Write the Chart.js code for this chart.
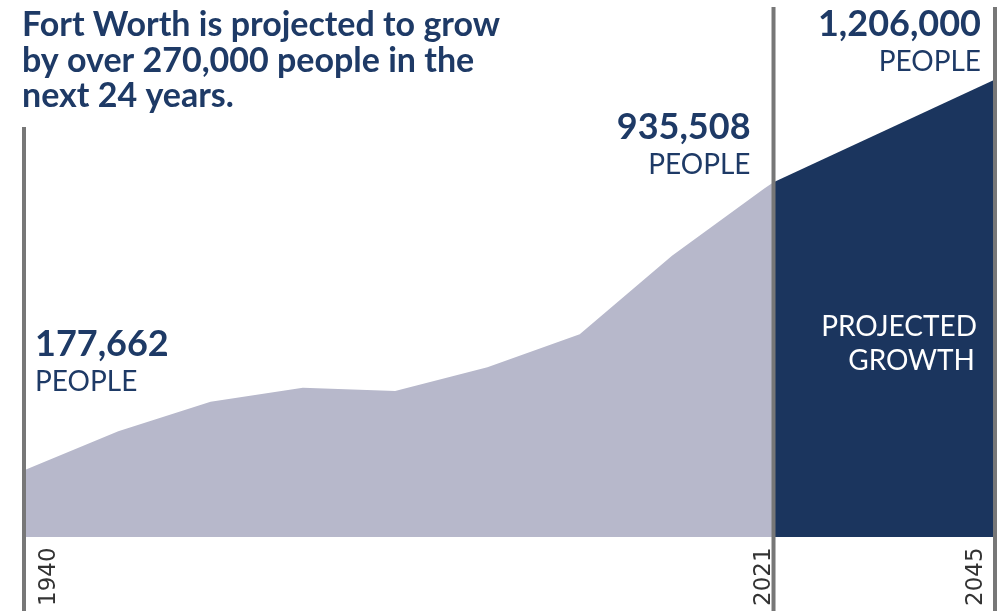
<!DOCTYPE html>
<html>
<head>
<meta charset="utf-8">
<script src="https://cdn.jsdelivr.net/npm/chart.js@4.4.1/dist/chart.umd.min.js"></script>
<style>
  html, body { margin: 0; padding: 0; background: #fff; }
  #wrap { width: 998px; height: 611px; position: relative; }
</style>
</head>
<body>
<div id="wrap"><canvas id="chart1"></canvas></div>
<script>
// census counts, Fort Worth
var histYears = [1940, 1950, 1960, 1970, 1980, 1990, 2000, 2010, 2020, 2021];
var histPop = [177662, 278778, 356268, 393476, 385164, 447619, 534694, 741206, 918915, 935508];

// projection
var projYears = [2021, 2045];
var projPop = [935508, 1206000];

var markYears = [1940, 2021, 2045];
var titleLines = ['Fort Worth is projected to grow', 'by over 270,000 people in the', 'next 24 years.'];

var navy = '#1b355e';
var textNavy = '#1e3a66';

function pts(xs, ys) {
    return xs.map(function(x, i) { return { x: x, y: ys[i] }; });
}

var overlay = {
    id: 'overlay',
    afterDatasetsDraw: function(chart) {
        var ctx = chart.ctx;
        var xs = chart.scales.x;
        var x0 = xs.getPixelForValue(markYears[0]);
        var x1 = xs.getPixelForValue(markYears[1]);
        var x2 = xs.getPixelForValue(markYears[2]);

        ctx.save();
        // divider lines
        ctx.strokeStyle = '#777777';
        ctx.lineWidth = 4;
        ctx.beginPath();
        ctx.moveTo(x0 - 2, 127); ctx.lineTo(x0 - 2, 611);
        ctx.moveTo(x1, 7); ctx.lineTo(x1, 611);
        ctx.moveTo(x2, 7); ctx.lineTo(x2, 611);
        ctx.stroke();

        // title
        ctx.fillStyle = textNavy;
        ctx.font = 'bold 34px Lato';
        ctx.textAlign = 'left';
        ctx.textBaseline = 'alphabetic';
        titleLines.forEach(function(t, i) {
            ctx.fillText(t, 22, 36 + i * 35.5);
        });

        // value callouts
        function callout(txt, x, y, align) {
            ctx.textAlign = align;
            ctx.fillStyle = textNavy;
            ctx.font = 'bold 36px Lato';
            ctx.fillText(txt, x, y);
            ctx.font = '28px Lato';
            ctx.fillText('PEOPLE', x, y + 35);
        }
        callout(histPop[0].toLocaleString('en-US'), x0 + 9, 356, 'left');
        callout(histPop[histPop.length - 1].toLocaleString('en-US'), x1 - 23, 139, 'right');
        callout(projPop[1].toLocaleString('en-US'), x2 - 14, 36, 'right');

        // projected growth label
        ctx.fillStyle = '#ffffff';
        ctx.font = '28px Lato';
        ctx.textAlign = 'right';
        ctx.fillText('PROJECTED', x2 - 18, 336);
        ctx.fillText('GROWTH', x2 - 20, 370);

        // year labels, rotated
        ctx.fillStyle = '#333333';
        ctx.font = '23px "DejaVu Sans"';
        ctx.textAlign = 'left';
        ctx.textBaseline = 'alphabetic';
        var yearX = [x0 + 29, x1 - 4, x2 - 13];
        markYears.forEach(function(yr, i) {
            ctx.save();
            ctx.translate(yearX[i], 606);
            ctx.rotate(-Math.PI / 2);
            ctx.fillText(String(yr), 0, 0);
            ctx.restore();
        });
        ctx.restore();
    }
};

var ctx = document.getElementById('chart1').getContext('2d');

var myChart = new Chart(ctx, {
    type: 'line',
    data: {
        datasets: [{
            label: 'Population',
            data: pts(histYears, histPop),
            backgroundColor: '#b7b8cb',
            borderWidth: 0,
            pointRadius: 0,
            fill: 'origin',
            tension: 0
        }, {
            label: 'Projected',
            data: pts(projYears, projPop),
            backgroundColor: navy,
            borderWidth: 0,
            pointRadius: 0,
            fill: 'origin',
            tension: 0
        }]
    },
    options: {
        responsive: true,
        maintainAspectRatio: false,
        animation: false,
        layout: {
            padding: { left: 26, right: 3, top: 6, bottom: 74 }
        },
        scales: {
            x: { type: 'linear', min: 1940, max: 2045, display: false },
            y: { min: 0, max: 1400000, display: false }
        },
        plugins: {
            legend: { display: false },
            tooltip: { enabled: false }
        }
    },
    plugins: [overlay]
});
</script>
</body>
</html>
